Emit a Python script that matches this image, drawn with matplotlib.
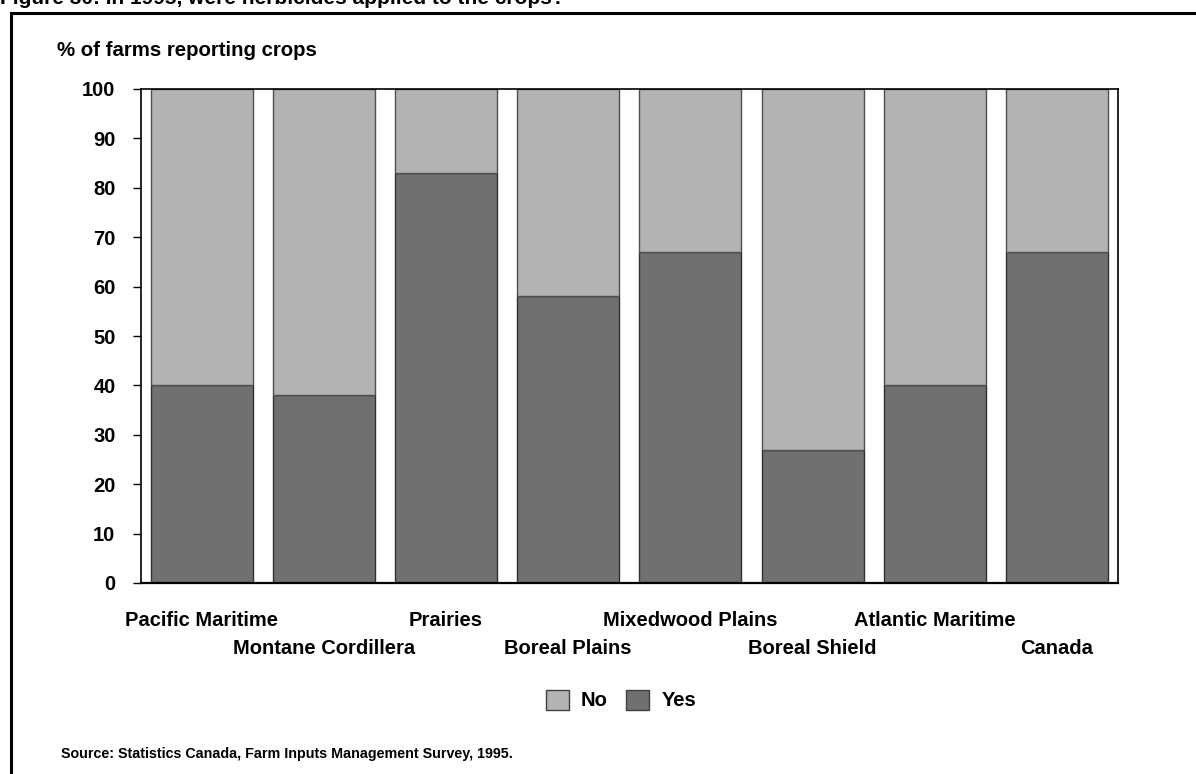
import numpy as np
import matplotlib.pyplot as plt
from matplotlib.patches import Rectangle, Patch

plt.rcParams['font.family'] = ['Liberation Sans', 'DejaVu Sans']
plt.rcParams['font.weight'] = 'bold'

# data
regions = ["Pacific Maritime", "Montane Cordillera", "Prairies", "Boreal Plains",
           "Mixedwood Plains", "Boreal Shield", "Atlantic Maritime", "Canada"]
yes_pct = [40, 38, 83, 58, 67, 27, 40, 67]
no_pct = [100 - v for v in yes_pct]

yes_color = "#707070"
no_color = "#b3b3b3"

W, H = 1196, 774
fig = plt.figure(figsize=(W / 100, H / 100), dpi=100)

# frame around the figure (runs off the right and bottom)
fig.patches.append(Rectangle((11 / W, -0.1), 1.2, 1 - 13 / H + 0.1,
                             transform=fig.transFigure, fill=False,
                             edgecolor="black", linewidth=2.2))

# title, clipped at the top edge
fig.text(0.0, 1 - 4 / H, "Figure 30: In 1995, were herbicides applied to the crops?",
         fontsize=15, fontweight="bold", va="baseline", ha="left")

ax = fig.add_axes([140.5 / W, 1 - 583 / H, (1118 - 140.5) / W, (583 - 89) / H])
x = np.arange(len(regions))
ax.bar(x, yes_pct, width=0.835, color=yes_color, edgecolor="#303030", linewidth=1)
ax.bar(x, no_pct, bottom=yes_pct, width=0.835, color=no_color, edgecolor="#505050", linewidth=1)

ax.set_xlim(-0.5, len(regions) - 0.5)
ax.set_ylim(0, 100)
ax.set_yticks(range(0, 101, 10))
ax.tick_params(axis="y", length=6, width=1, labelsize=14.5, pad=12)
ax.tick_params(axis="x", length=0, labelbottom=False)
for s in ax.spines.values():
    s.set_linewidth(1.2)
ax.spines["bottom"].set_linewidth(1.6)

# staggered category labels
for i, name in enumerate(regions):
    ypix = 620 if i % 2 == 0 else 648
    ax.text(i, 1 - (ypix - 89) / (583 - 89),
            name, transform=ax.get_xaxis_transform(), ha="center", va="center",
            fontsize=14.5, fontweight="bold")

fig.text(57 / W, 1 - 51 / H, "% of farms reporting crops", fontsize=14.7,
         fontweight="bold", va="center", ha="left")

handles = [Patch(facecolor=no_color, edgecolor="#404040", label="No"),
           Patch(facecolor=yes_color, edgecolor="#404040", label="Yes")]
fig.legend(handles=handles, loc="center", bbox_to_anchor=(621 / W, 1 - 700 / H), ncol=2,
           frameon=False, fontsize=14.5, handlelength=1.15, handleheight=1.15,
           handletextpad=0.6, columnspacing=0.9)

fig.text(61 / W, 1 - 754 / H, "Source: Statistics Canada, Farm Inputs Management Survey, 1995.",
         fontsize=10.3, fontweight="bold", va="center", ha="left")

fig.savefig("out.png", dpi=100)
